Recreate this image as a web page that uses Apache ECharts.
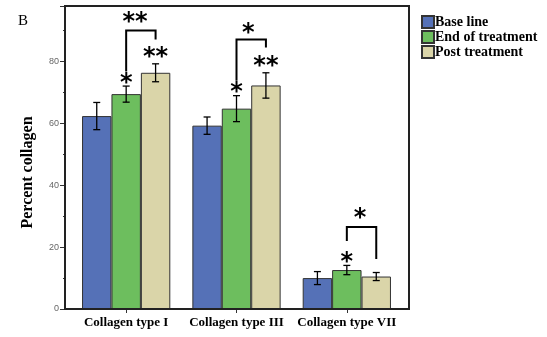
<!DOCTYPE html>
<html>
<head>
<meta charset="utf-8">
<script src="https://cdn.jsdelivr.net/npm/echarts@6/dist/echarts.min.js"></script>
<style>
  html, body { margin: 0; padding: 0; background: #fff; }
  #chart { width: 547px; height: 337px; }
</style>
</head>
<body>
<div id="chart"></div>
<script>
// datos
const categorias = ['Collagen type I', 'Collagen type III', 'Collagen type VII'];
const grupos = ['Base line', 'End of treatment', 'Post treatment'];
const baseLine = [62.4, 59.3, 10.0];
const finTratamiento = [69.5, 64.8, 12.6];
const postTratamiento = [76.4, 72.3, 10.5];
const errBase = [4.4, 2.8, 2.1];
const errFin = [2.6, 4.2, 1.5];
const errPost = [2.9, 4.1, 1.3];
// estrellas: [categoria, posicion (0=base,1=fin,2=post), valor y, texto]
const estrellas = [
  [0, 1, 74.9, '*'], [0, 2, 83.3, '**'], [0, 1.3, 94.4, '**'],
  [1, 1, 72.0, '*'], [1, 2, 80.4, '**'], [1, 1.4, 91.1, '*'],
  [2, 1, 16.9, '*'], [2, 1.45, 31.2, '*']
];
// corchetes: [categoria, izq, der, y arriba, y pata izq, y pata der]
const corchetes = [
  [0, 1, 2, 90.1, 76.8, 87.2],
  [1, 1, 2, 87.2, 73.8, 84.6],
  [2, 1, 2, 26.5, 22.0, 16.2]
];

const colores = ['#5571b7', '#6dbe5e', '#dad5a9'];
const medias = [baseLine, finTratamiento, postTratamiento];
const errores = [errBase, errFin, errPost];

const chartDom = document.getElementById('chart');
const myChart = echarts.init(chartDom);

const anchoBarra = (api) => api.size([1, 0])[0] * 0.8 / 3;

const datosError = [];
medias.forEach((serie, s) => {
  serie.forEach((v, c) => datosError.push([c, s, v, errores[s][c]]));
});

const option = {
  animation: false,
  title: {
    text: 'B', left: 13, top: 9,
    textStyle: { fontFamily: 'Liberation Serif', fontWeight: 'normal', fontSize: 15, color: '#000' }
  },
  legend: {
    data: grupos,
    orient: 'vertical',
    left: 416, top: 10,
    itemWidth: 12, itemHeight: 12, itemGap: 1,
    icon: 'rect',
    textStyle: { fontFamily: 'Liberation Serif', fontWeight: 'bold', fontSize: 14, color: '#000', padding: [0, 0, 0, -4] }
  },
  grid: { left: 71, right: 145, top: 6, bottom: 28 },
  xAxis: {
    type: 'category',
    data: categorias,
    axisLine: { show: false },
    axisTick: { show: true, alignWithLabel: true, length: 4, lineStyle: { color: '#333' } },
    axisLabel: { interval: 0, margin: 7, fontFamily: 'Liberation Serif', fontWeight: 'bold', fontSize: 13, color: '#000' }
  },
  yAxis: {
    type: 'value',
    min: 0, max: 98, interval: 20,
    offset: 6,
    name: 'Percent collagen',
    nameLocation: 'middle',
    nameGap: 29,
    nameTextStyle: { fontFamily: 'Liberation Serif', fontWeight: 'bold', fontSize: 16, color: '#000', padding: [0, 30, 0, 0] },
    axisLine: { show: false },
    axisTick: { show: true, length: 5, lineStyle: { color: '#333' } },
    minorTick: { show: true, splitNumber: 2, length: 2, lineStyle: { color: '#333' } },
    splitLine: { show: false },
    axisLabel: {
      margin: 6, fontSize: 9, color: '#666', fontFamily: 'Liberation Sans',
      formatter: (v) => (v % 20 === 0 ? String(v) : '')
    }
  },
  graphic: [{
    type: 'rect',
    shape: { x: 65, y: 6, width: 344, height: 303 },
    style: { fill: 'none', stroke: '#222', lineWidth: 2 },
    z: 100
  }],
  series: [
    ...grupos.map((nombre, s) => ({
      name: nombre,
      type: 'bar',
      data: medias[s],
      barGap: '0%',
      barCategoryGap: '20%',
      itemStyle: { color: colores[s], borderColor: '#333', borderWidth: 1 }
    })),
    {
      type: 'custom',
      name: 'error',
      data: datosError,
      z: 10,
      renderItem: (params, api) => {
        const c = api.value(0), s = api.value(1), m = api.value(2), e = api.value(3);
        const w = anchoBarra(api);
        const x = api.coord([c, 0])[0] + (s - 1) * w;
        const yAlto = api.coord([c, m + e])[1];
        const yBajo = api.coord([c, m - e])[1];
        const cap = 3.5;
        const estilo = { stroke: '#000', lineWidth: 1.3 };
        return {
          type: 'group',
          children: [
            { type: 'line', shape: { x1: x, y1: yAlto, x2: x, y2: yBajo }, style: estilo },
            { type: 'line', shape: { x1: x - cap, y1: yAlto, x2: x + cap, y2: yAlto }, style: estilo },
            { type: 'line', shape: { x1: x - cap, y1: yBajo, x2: x + cap, y2: yBajo }, style: estilo }
          ]
        };
      }
    },
    {
      type: 'custom',
      name: 'corchete',
      data: corchetes,
      z: 10,
      renderItem: (params, api) => {
        const c = api.value(0);
        const w = anchoBarra(api);
        const x0 = api.coord([c, 0])[0];
        const xi = x0 + (api.value(1) - 1) * w;
        const xd = x0 + (api.value(2) - 1) * w;
        const yArriba = api.coord([c, api.value(3)])[1];
        const yi = api.coord([c, api.value(4)])[1];
        const yd = api.coord([c, api.value(5)])[1];
        return {
          type: 'polyline',
          shape: { points: [[xi, yi], [xi, yArriba], [xd, yArriba], [xd, yd]] },
          style: { stroke: '#000', lineWidth: 2, fill: 'none' }
        };
      }
    },
    {
      type: 'custom',
      name: 'estrella',
      data: estrellas.map((d) => d.slice(0, 3)),
      z: 10,
      renderItem: (params, api) => {
        const c = api.value(0);
        const w = anchoBarra(api);
        const x = api.coord([c, 0])[0] + (api.value(1) - 1) * w;
        const y = api.coord([c, api.value(2)])[1];
        return {
          type: 'text',
          style: {
            text: estrellas[params.dataIndex][3],
            x: x, y: y + 6,
            align: 'center', verticalAlign: 'middle',
            font: 'bold 24px "DejaVu Sans"',
            fill: '#000'
          }
        };
      }
    }
  ]
};

myChart.setOption(option);
window.addEventListener('resize', myChart.resize);
</script>
</body>
</html>
